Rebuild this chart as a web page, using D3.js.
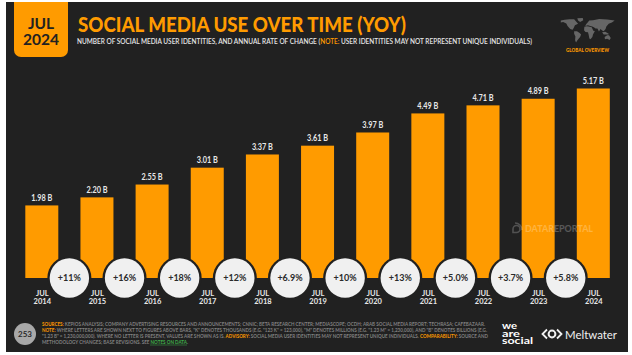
<!DOCTYPE html>
<html>
<head>
<meta charset="utf-8">
<script src="https://cdn.jsdelivr.net/npm/d3@7"></script>
<style>
  html, body { margin: 0; padding: 0; background: #fff; overflow: hidden; }
  svg { display: block; }
  text { font-family: "Lato", "Noto Sans", sans-serif; }
</style>
</head>
<body>
<svg id="chart" width="632" height="355"></svg>
<script>
const years = ['2014', '2015', '2016', '2017', '2018', '2019', '2020', '2021', '2022', '2023', '2024'];
const users = [1.98, 2.20, 2.55, 3.01, 3.37, 3.61, 3.97, 4.49, 4.71, 4.89, 5.17];
const growth = ['+11%', '+16%', '+18%', '+12%', '+6.9%', '+10%', '+13%', '+5.0%', '+3.7%', '+5.8%'];

const orange = '#ff9b00';
const dark = '#212121';

const svg = d3.select('#chart');

// Lay coloured pieces of one line side by side, squeezed to a total width
function runLine(startX, baseY, totalWidth, fontSize, weight, parts) {
  const pieces = parts.map(p => svg.append('text')
    .attr('y', baseY)
    .attr('font-size', fontSize)
    .attr('font-weight', weight)
    .attr('fill', p[1])
    .attr('xml:space', 'preserve')
    .style('white-space', 'pre')
    .text(p[0]));
  const widths = pieces.map(t => t.node().getComputedTextLength());
  const scale = totalWidth / d3.sum(widths);
  let cur = startX;
  pieces.forEach((t, i) => {
    t.attr('x', cur)
      .attr('textLength', widths[i] * scale)
      .attr('lengthAdjust', 'spacingAndGlyphs');
    cur += widths[i] * scale;
  });
}

// Slide background
svg.append('rect').attr('x', 6).attr('y', 2).attr('width', 622).attr('height', 350).attr('fill', dark);

// Date badge
svg.append('path')
  .attr('d', 'M14 2H68V50a7 7 0 0 1 -7 7H21a7 7 0 0 1 -7 -7Z')
  .attr('fill', orange);
svg.append('text').attr('x', 41).attr('y', 29).attr('text-anchor', 'middle')
  .attr('font-size', 15.5).attr('font-weight', 700).attr('fill', dark).text('JUL');
svg.append('text').attr('x', 41).attr('y', 44.5).attr('text-anchor', 'middle')
  .attr('font-size', 15.5).attr('font-weight', 700).attr('fill', dark).text('2024');

// Title and subtitle
svg.append('text').attr('x', 78).attr('y', 32)
  .attr('font-size', 20.5).attr('font-weight', 900).attr('fill', orange)
  .attr('textLength', 328).attr('lengthAdjust', 'spacingAndGlyphs')
  .text('SOCIAL MEDIA USE OVER TIME (YOY)');
const subColor = '#e6e6e6';
runLine(77, 44, 455, 6.6, 600, [
  ['NUMBER OF SOCIAL MEDIA USER IDENTITIES, AND ANNUAL RATE OF CHANGE (', subColor],
  ['NOTE:', orange],
  [' USER IDENTITIES MAY NOT REPRESENT UNIQUE INDIVIDUALS)', subColor]
]);

// Bars
const x = d3.scalePoint().domain(years).range([41.8, 593.3]);
const barWidth = 33;
const y = d3.scaleLinear().domain([0, 5.17]).range([278, 88.5]);

svg.append('g').selectAll('rect').data(years).enter().append('rect')
  .attr('x', d => x(d) - barWidth / 2)
  .attr('y', (d, i) => y(users[i]))
  .attr('width', barWidth)
  .attr('height', (d, i) => y(0) - y(users[i]))
  .attr('fill', orange);

svg.append('g').selectAll('text').data(years).enter().append('text')
  .attr('x', d => x(d))
  .attr('y', (d, i) => y(users[i]) - 4.5)
  .attr('text-anchor', 'middle')
  .attr('font-size', 10)
  .attr('font-weight', 700)
  .attr('fill', '#e8e8e8')
  .attr('textLength', 21)
  .attr('lengthAdjust', 'spacingAndGlyphs')
  .text((d, i) => users[i].toFixed(2) + ' B');

// Watermark
const markX = 513;
const markY = 229;
svg.append('text').attr('x', markX + 12).attr('y', markY + 3)
  .attr('font-size', 10).attr('font-weight', 900).attr('fill', '#fff').attr('fill-opacity', 0.25)
  .attr('textLength', 68).attr('lengthAdjust', 'spacingAndGlyphs')
  .text('DATAREPORTAL');
svg.append('path')
  .attr('d', `M${markX} ${markY}a3.5 3.5 0 1 1 3.5 3.5h-3.5Z M${markX + 2} ${markY - 6}a7 7 0 0 1 7 7`)
  .attr('fill', 'none').attr('stroke', '#fff').attr('stroke-opacity', 0.22).attr('stroke-width', 1.6);

// Axis labels
const axis = d3.axisBottom(x).tickSize(0).tickPadding(0).tickFormat('');
const axisG = svg.append('g').attr('transform', 'translate(0,285)').call(axis);
axisG.select('.domain').remove();
axisG.selectAll('.tick').each(function(d) {
  const t = d3.select(this).select('text').attr('y', 0).attr('dy', null)
    .attr('font-size', 7.5).attr('font-weight', 700).attr('fill', '#e8e8e8');
  t.append('tspan').attr('x', 0).attr('y', 11).attr('font-family', 'Lato').text('JUL');
  t.append('tspan').attr('x', 0).attr('y', 19).attr('font-family', 'Lato').text(d);
});

// Growth bubbles sit halfway between neighbouring bars
const bubbles = svg.append('g').selectAll('g').data(growth).enter().append('g')
  .attr('transform', (d, i) => `translate(${(x(years[i]) + x(years[i + 1])) / 2},278)`);
bubbles.append('circle').attr('r', 22).attr('fill', dark);
bubbles.append('circle').attr('r', 19.7).attr('fill', '#f0f0f0');
bubbles.append('text').attr('text-anchor', 'middle').attr('y', 3.2)
  .attr('font-size', 9).attr('font-weight', 700).attr('fill', '#2a2a2a').text(d => d);

// Footer page number
svg.append('circle').attr('cx', 25).attr('cy', 334).attr('r', 11).attr('fill', '#a8a8a8');
svg.append('text').attr('x', 25).attr('y', 337).attr('text-anchor', 'middle')
  .attr('font-size', 8).attr('font-weight', 700).attr('fill', '#2a2a2a').text('253');

// Footer notes
const grey = '#808080';
const green = '#3fae49';
runLine(42, 325.5, 443, 4.6, 700, [
  ['SOURCES:', orange],
  [' KEPIOS ANALYSIS; COMPANY ADVERTISING RESOURCES AND ANNOUNCEMENTS; CNNIC; BETA RESEARCH CENTER; MEDIASCOPE; OCDH; ARAB SOCIAL MEDIA REPORT; TECHRASA; CAFEBAZAAR.', grey]
]);
runLine(42, 331.7, 445, 4.6, 700, [
  ['NOTE:', orange],
  [' WHERE LETTERS ARE SHOWN NEXT TO FIGURES ABOVE BARS, "K" DENOTES THOUSANDS (E.G. "123 K" = 123,000), "M" DENOTES MILLIONS (E.G. "1.23 M" = 1,230,000), AND "B" DENOTES BILLIONS (E.G.', grey]
]);
runLine(42, 337.9, 446, 4.6, 700, [
  ['"1.23 B" = 1,230,000,000). WHERE NO LETTER IS PRESENT, VALUES ARE SHOWN AS IS. ', grey],
  ['ADVISORY:', orange],
  [' SOCIAL MEDIA USER IDENTITIES MAY NOT REPRESENT UNIQUE INDIVIDUALS. ', grey],
  ['COMPARABILITY:', orange],
  [' SOURCE AND', grey]
]);
runLine(42, 344, 146, 4.6, 700, [
  ['METHODOLOGY CHANGES; BASE REVISIONS. SEE ', grey],
  ['NOTES ON DATA', green],
  ['.', grey]
]);
svg.append('line').attr('x1', 150).attr('x2', 187).attr('y1', 345).attr('y2', 345)
  .attr('stroke', green).attr('stroke-width', 0.5);

// Logos
[['we', 329, 15], ['are', 336.5, 18], ['social', 344, 31]].forEach(d => {
  svg.append('text').attr('x', 502).attr('y', d[1])
    .attr('font-size', 10).attr('font-weight', 700).attr('fill', '#fff')
    .attr('textLength', d[2]).attr('lengthAdjust', 'spacingAndGlyphs').text(d[0]);
});
svg.append('text').attr('x', 565).attr('y', 338.5)
  .attr('font-size', 12).attr('fill', '#f0f0f0')
  .attr('textLength', 52).attr('lengthAdjust', 'spacingAndGlyphs').text('Meltwater');
svg.append('circle').attr('cx', 552).attr('cy', 334).attr('r', 3.4).attr('fill', 'none').attr('stroke', '#f0f0f0').attr('stroke-width', 2);
svg.append('path').attr('d', 'M547 329.5l-4.5 4.5l4.5 4.5M557 329.5l4.5 4.5l-4.5 4.5').attr('fill', 'none').attr('stroke', '#f0f0f0').attr('stroke-width', 1.8);

// Global overview badge
svg.append('text').attr('x', 587.5).attr('y', 51.5).attr('text-anchor', 'middle')
  .attr('font-size', 5).attr('font-weight', 900).attr('fill', orange)
  .attr('textLength', 43).attr('lengthAdjust', 'spacingAndGlyphs').text('GLOBAL OVERVIEW');

// Rough continent outlines in lon/lat for the little map
const continents = [
  [[-165, 68], [-140, 72], [-110, 75], [-80, 75], [-62, 58], [-55, 50], [-75, 42], [-82, 28], [-90, 18], [-105, 22], [-122, 38], [-130, 52], [-150, 60], [-165, 58]],
  [[-60, 80], [-25, 82], [-22, 70], [-42, 60], [-55, 68]],
  [[-80, 10], [-62, 10], [-45, 0], [-36, -8], [-42, -22], [-58, -38], [-68, -52], [-74, -40], [-72, -20], [-80, -4]],
  [[-15, 34], [0, 37], [12, 36], [32, 31], [42, 12], [52, 11], [40, -8], [36, -22], [24, -34], [17, -30], [12, -8], [8, 4], [-8, 5], [-17, 15]],
  [[-9, 38], [-4, 48], [6, 58], [16, 68], [40, 70], [80, 76], [130, 74], [178, 68], [160, 58], [140, 50], [125, 36], [120, 22], [108, 10], [98, 14], [88, 22], [78, 8], [68, 24], [56, 25], [48, 30], [35, 36], [22, 38], [8, 42]],
  [[114, -22], [130, -12], [142, -12], [153, -27], [146, -38], [130, -32], [116, -34]],
  [[98, 4], [118, 6], [140, -4], [138, -8], [108, -8]]
];
const mapX = d3.scaleLinear().domain([-170, 180]).range([560, 615]);
const mapY = d3.scaleLinear().domain([82, -55]).range([18, 43]);
const outline = d3.line().x(d => mapX(d[0])).y(d => mapY(d[1])).curve(d3.curveLinearClosed);
svg.append('g').selectAll('path').data(continents).enter().append('path')
  .attr('d', outline)
  .attr('fill', '#666');
</script>
</body>
</html>
